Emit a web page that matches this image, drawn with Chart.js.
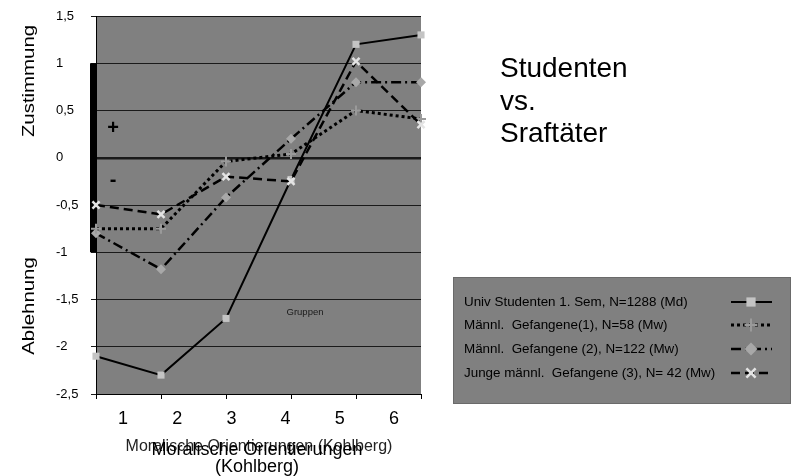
<!doctype html>
<html>
    <head>
        <meta charset="UTF-8" />
        <script src="https://cdn.jsdelivr.net/npm/chart.js"></script>
        <style>
            html, body { margin: 0; padding: 0; background: #fff; }
        </style>
    </head>
    <body>
        <canvas id="kohlbergChart" width="800" height="476"></canvas>
        <script>
            // Moralische Orientierungen (Kohlberg), Stufen 1-6
            const stufen = ["1", "2", "3", "4", "5", "6"];
            const studenten = [-2.1, -2.3, -1.7, -0.23, 1.2, 1.3];
            const gefangene1 = [-0.75, -0.75, -0.04, 0.04, 0.5, 0.41];
            const gefangene2 = [-0.8, -1.18, -0.42, 0.2, 0.8, 0.8];
            const gefangene3 = [-0.5, -0.6, -0.2, -0.25, 1.02, 0.35];
            const serienNamen = [
                "Univ Studenten 1. Sem, N=1288 (Md)",
                "Männl.  Gefangene(1), N=58 (Mw)",
                "Männl.  Gefangene (2), N=122 (Mw)",
                "Junge männl.  Gefangene (3), N= 42 (Mw)",
            ];
            const yMin = -2.5;
            const yMax = 1.5;
            const yStep = 0.5;

            const FONT = "'Liberation Sans', Arial, sans-serif";
            Chart.defaults.font.family = FONT;
            Chart.defaults.color = "#000";

            const ctx = document.getElementById("kohlbergChart");

            const deko = {
                id: "deko",
                beforeDraw(chart) {
                    const { ctx, chartArea: a } = chart;
                    ctx.save();
                    ctx.fillStyle = "#808080";
                    ctx.fillRect(a.left, a.top, a.right - a.left, a.bottom - a.top);
                    ctx.restore();
                },
                beforeDatasetsDraw(chart) {
                    const { ctx, chartArea: a, scales } = chart;
                    const y = scales.y;
                    ctx.save();
                    // dicker Balken zwischen +1 und -1
                    ctx.fillStyle = "#000";
                    const t = y.getPixelForValue(1);
                    const b = y.getPixelForValue(-1);
                    ctx.fillRect(a.left - 6, t, 6, b - t);
                    ctx.font = "bold 20px " + FONT;
                    ctx.textAlign = "center";
                    ctx.textBaseline = "middle";
                    ctx.fillText("+", a.left + 17, 128);
                    ctx.fillText("-", a.left + 17, 180);
                    ctx.font = "9.5px " + FONT;
                    ctx.fillStyle = "#1a1a1a";
                    ctx.fillText("Gruppen", 305, 312);
                    ctx.restore();
                },
                afterDraw(chart) {
                    const c = chart.ctx;
                    c.save();
                    c.fillStyle = "#000";

                    // Achsentitel links (gedreht, gestreckt)
                    const vertikal = (text, x, y) => {
                        c.save();
                        c.translate(x, y);
                        c.rotate(-Math.PI / 2);
                        c.scale(1.2, 1);
                        c.font = "17px " + FONT;
                        c.textAlign = "center";
                        c.textBaseline = "middle";
                        c.fillText(text, 0, 0);
                        c.restore();
                    };
                    vertikal("Zustimmung", 29, 81);
                    vertikal("Ablehnung", 29, 306);

                    // x-Achsentitel (doppelt, ueberlagert)
                    c.textAlign = "center";
                    c.textBaseline = "middle";
                    c.font = "16px " + FONT;
                    c.fillStyle = "#222";
                    c.fillText("Moralische Orientierungen (Kohlberg)", 259, 447);
                    c.font = "18px " + FONT;
                    c.fillStyle = "#000";
                    c.fillText("Moralische Orientierungen", 257, 450);
                    c.fillText("(Kohlberg)", 257, 467);

                    // Titel rechts
                    c.textAlign = "left";
                    c.textBaseline = "alphabetic";
                    c.font = "28px " + FONT;
                    c.fillText("Studenten", 500, 77);
                    c.fillText("vs.", 500, 110);
                    c.fillText("Sraftäter", 500, 142);

                    // Legende
                    c.fillStyle = "#808080";
                    c.fillRect(453, 277, 337, 126);
                    c.strokeStyle = "#6a6a6a";
                    c.lineWidth = 1;
                    c.strokeRect(453.5, 277.5, 337, 126);
                    const zeilen = [302, 325, 349, 373];
                    chart.data.datasets.forEach((ds, i) => {
                        const yy = zeilen[i];
                        c.fillStyle = "#000";
                        c.font = "13.4px " + FONT;
                        c.textBaseline = "middle";
                        c.fillText(ds.label, 464, yy);
                        c.save();
                        c.strokeStyle = ds.borderColor;
                        c.lineWidth = ds.borderWidth;
                        c.setLineDash(ds.borderDash || []);
                        c.beginPath();
                        c.moveTo(731, yy);
                        c.lineTo(772, yy);
                        c.stroke();
                        c.setLineDash([]);
                        c.fillStyle = ds.pointBackgroundColor;
                        c.strokeStyle = ds.pointBorderColor;
                        c.lineWidth = ds.pointBorderWidth;
                        Chart.helpers.drawPoint(
                            c,
                            {
                                pointStyle: ds.pointStyle,
                                rotation: 0,
                                radius: ds.pointRadius + 1.5,
                                borderWidth: ds.pointBorderWidth,
                            },
                            751,
                            yy,
                        );
                        c.restore();
                    });
                    c.restore();
                },
            };

            new Chart(ctx, {
                type: "line",
                data: {
                    labels: stufen,
                    datasets: [
                        {
                            label: serienNamen[0],
                            data: studenten,
                            order: 5,
                            borderColor: "#000",
                            borderWidth: 2,
                            pointStyle: "rect",
                            pointRadius: 5,
                            pointBackgroundColor: "#c4c4c4",
                            pointBorderColor: "#c4c4c4",
                            pointBorderWidth: 0,
                        },
                        {
                            label: serienNamen[1],
                            data: gefangene1,
                            order: 2,
                            borderColor: "#000",
                            borderWidth: 3,
                            borderDash: [3, 3],
                            pointStyle: "cross",
                            pointRadius: 5,
                            pointBackgroundColor: "#9a9a9a",
                            pointBorderColor: "#9a9a9a",
                            pointBorderWidth: 2,
                        },
                        {
                            label: serienNamen[2],
                            data: gefangene2,
                            order: 3,
                            borderColor: "#000",
                            borderWidth: 2.5,
                            borderDash: [10, 4, 2, 4],
                            pointStyle: "rectRot",
                            pointRadius: 5,
                            pointBackgroundColor: "#a8a8a8",
                            pointBorderColor: "#a8a8a8",
                            pointBorderWidth: 0,
                        },
                        {
                            label: serienNamen[3],
                            data: gefangene3,
                            order: 1,
                            borderColor: "#000",
                            borderWidth: 2.5,
                            borderDash: [9, 5],
                            pointStyle: "crossRot",
                            pointRadius: 5,
                            pointBackgroundColor: "#e4e4e4",
                            pointBorderColor: "#e4e4e4",
                            pointBorderWidth: 2.5,
                        },
                    ],
                },
                options: {
                    responsive: false,
                    animation: false,
                    clip: false,
                    layout: { padding: { left: 56, top: 16, right: 379, bottom: 0 } },
                    elements: { line: { tension: 0 } },
                    plugins: {
                        legend: { display: false },
                        tooltip: { enabled: false },
                    },
                    scales: {
                        x: {
                            type: "category",
                            position: "bottom",
                            offset: false,
                            weight: 0,
                            ticks: { display: false },
                            grid: {
                                drawOnChartArea: false,
                                drawTicks: true,
                                tickLength: 5,
                                color: "#000",
                            },
                            border: { display: true, color: "#000" },
                            afterFit: (s) => { s.height = 6; },
                        },
                        x2: {
                            type: "category",
                            position: "bottom",
                            labels: stufen,
                            offset: true,
                            weight: 1,
                            grid: { display: false, drawTicks: false },
                            border: { display: false },
                            ticks: {
                                font: { size: 18 },
                                color: "#000",
                                padding: 8,
                                maxRotation: 0,
                            },
                            afterFit: (s) => { s.height = 76; },
                        },
                        y: {
                            min: yMin,
                            max: yMax,
                            ticks: {
                                stepSize: yStep,
                                font: { size: 13 },
                                color: "#000",
                                crossAlign: "far",
                                callback: (v) => String(v).replace(".", ","),
                            },
                            grid: {
                                color: "#1a1a1a",
                                lineWidth: (c) => (c.tick && c.tick.value === 0 ? 2.5 : 1),
                                drawTicks: true,
                                tickLength: 5,
                            },
                            border: { display: true, color: "#000" },
                            afterFit: (s) => { s.width = 40; },
                        },
                    },
                },
                plugins: [deko],
            });
        </script>
    </body>
</html>
